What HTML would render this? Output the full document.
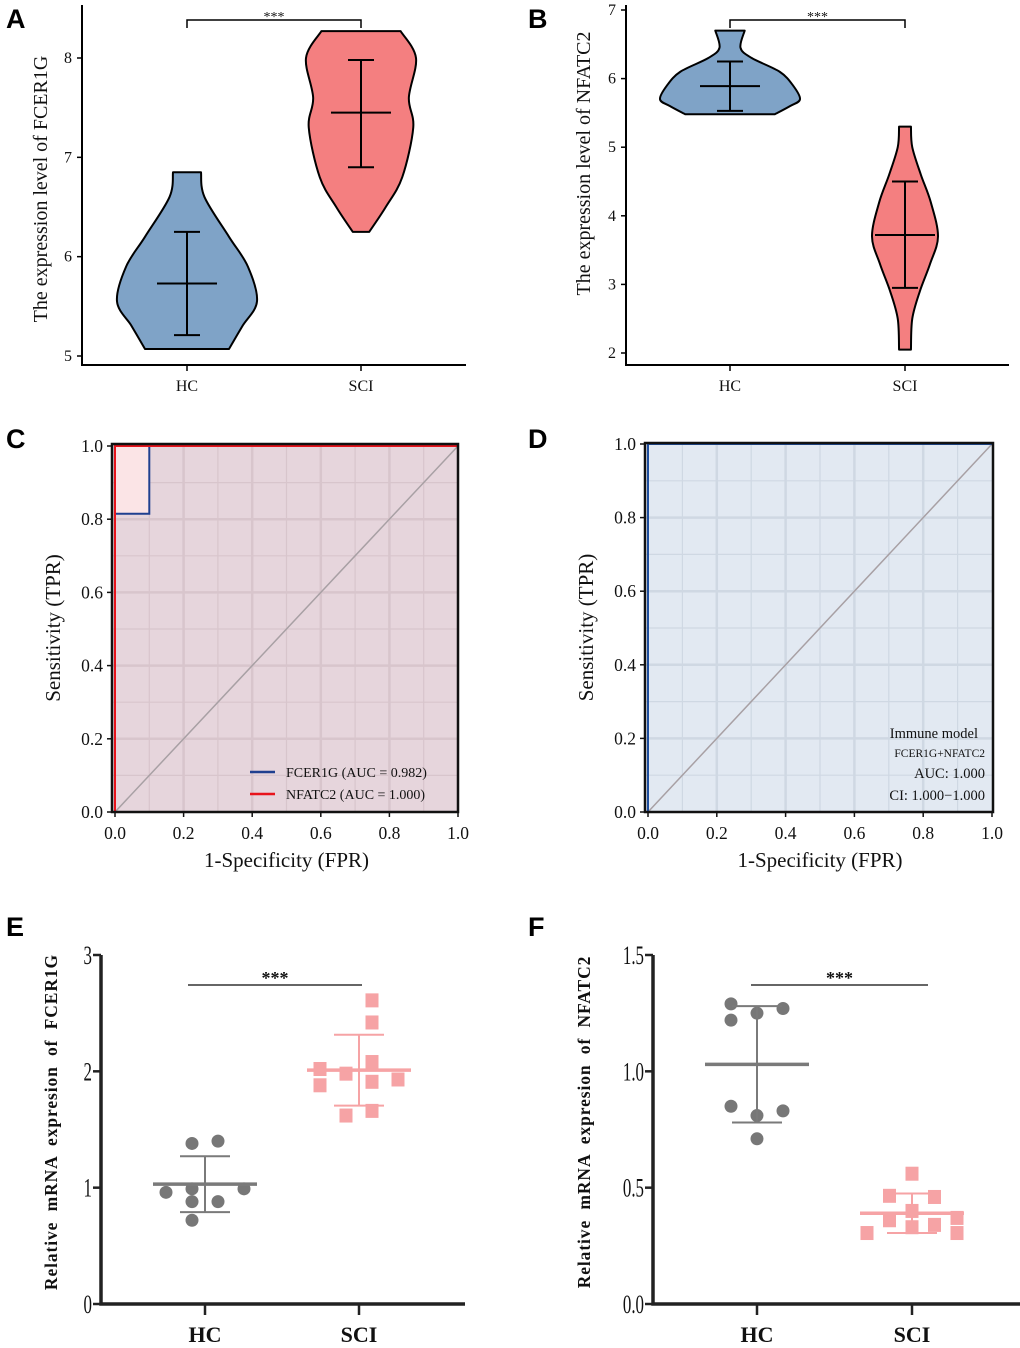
<!DOCTYPE html>
<html><head><meta charset="utf-8"><style>
html,body{margin:0;padding:0;background:#fff}
svg{display:block}
text{font-family:"Liberation Serif",serif;fill:#111}
.lt{font-family:"Liberation Sans",sans-serif;font-weight:bold;font-size:27px;fill:#000}
</style></head><body>
<svg id="fig" width="1020" height="1348" viewBox="0 0 1020 1348" xmlns="http://www.w3.org/2000/svg">
<text class="lt" x="6" y="28">A</text>
<text class="lt" x="528" y="28">B</text>
<text class="lt" x="6" y="448">C</text>
<text class="lt" x="528" y="448">D</text>
<text class="lt" x="6" y="936">E</text>
<text class="lt" x="528" y="936">F</text>
</svg>
<script>
// ---- data ----
const groups = ["HC","SCI"];
// Panel A violin (FCER1G)
const aTicks = [5,6,7,8];
const aHcY = [6.85,6.6,6.2,5.9,5.55,5.3,5.07];
const aHcW = [0.20,0.25,0.60,0.87,1.0,0.79,0.60];
const aSciY = [8.27,8.0,7.6,7.3,6.8,6.5,6.25];
const aSciW = [0.72,1.0,0.87,0.95,0.75,0.45,0.15];
const aMean = [5.73,7.45];
const aLow = [5.21,6.9];
const aHigh = [6.25,7.98];
// Panel B violin (NFATC2)
const bTicks = [2,3,4,5,6,7];
const bHcY = [6.7,6.45,6.3,6.1,5.9,5.7,5.6,5.48];
const bHcW = [0.21,0.15,0.31,0.71,0.9,1.0,0.86,0.64];
const bSciY = [5.3,5.0,4.6,4.2,3.7,3.3,2.9,2.5,2.05];
const bSciW = [0.18,0.22,0.48,0.78,1.0,0.76,0.45,0.22,0.18];
const bMean = [5.89,3.72];
const bLow = [5.53,2.95];
const bHigh = [6.25,4.5];
// Panel C ROC
const rocTicks = [0,0.2,0.4,0.6,0.8,1.0];
const fcerFpr = [0,0,0.1,0.1,1];
const fcerTpr = [0,0.815,0.815,1,1];
const nfatFpr = [0,0,1];
const nfatTpr = [0,1,1];
// Panel D ROC
const modelFpr = [0,0,1];
const modelTpr = [0,1,1];
// Panel E
const eTicks = [0,1,2,3];
const eHcVals = [1.38,1.40,0.96,0.99,0.99,0.88,0.88,0.72];
const eHcJit = [-0.5,0.5,-1.5,-0.5,1.5,-0.5,0.5,-0.5];
const eSciVals = [2.61,2.42,2.08,2.02,1.88,1.98,1.91,1.93,1.62,1.66];
const eSciJit = [0.5,0.5,0.5,-1.5,-1.5,-0.5,0.5,1.5,-0.5,0.5];
const eMean = [1.03,2.01];
const eSd = [0.24,0.305];
// Panel F
const fTicks = [0.0,0.5,1.0,1.5];
const fHcVals = [1.29,1.27,1.22,1.25,0.85,0.83,0.81,0.71];
const fHcJit = [-1,1,-1,0,-1,1,0,0];
const fSciVals = [0.56,0.465,0.46,0.40,0.36,0.34,0.305,0.33,0.305,0.37];
const fSciJit = [0,-1,1,0,-1,1,-2,0,2,2];
const fMean = [1.03,0.39];
const fSd = [0.25,0.085];

const NS="http://www.w3.org/2000/svg";
const svg=document.getElementById('fig');
function mk(tag,attrs,parent){const e=document.createElementNS(NS,tag);for(const k in attrs)e.setAttribute(k,attrs[k]);(parent||svg).appendChild(e);return e;}
function txt(s,attrs,parent){const e=mk('text',attrs,parent);e.textContent=s;return e;}
function lin(sc){return v=>sc.p0+(v-sc.d0)*(sc.p1-sc.p0)/(sc.d1-sc.d0);}
function smooth(pts){let d='M'+pts[0][0]+','+pts[0][1];for(let i=0;i<pts.length-1;i++){const p0=pts[Math.max(i-1,0)],p1=pts[i],p2=pts[i+1],p3=pts[Math.min(i+2,pts.length-1)];const c1=[p1[0]+(p2[0]-p0[0])/6,p1[1]+(p2[1]-p0[1])/6],c2=[p2[0]-(p3[0]-p1[0])/6,p2[1]-(p3[1]-p1[1])/6];d+=' C'+c1[0]+','+c1[1]+' '+c2[0]+','+c2[1]+' '+p2[0]+','+p2[1];}return d;}

function violinPanel(o){
  const g=mk('g',{});
  
  
  const y=lin({d0:o.ylo,d1:o.yhi,p0:o.py0,p1:o.py1});
  const ax=mk('path',{d:`M${o.x0},5 V${o.axY} H${o.x1}`,fill:'none',stroke:'#000','stroke-width':2},g);
  
  o.ticks.forEach(t=>{mk('line',{x1:o.x0-5,x2:o.x0,y1:y(t),y2:y(t),stroke:'#000','stroke-width':1.5},g);
    const l=txt(String(t),{x:o.x0-10,y:y(t)+5,'text-anchor':'end','font-size':16},g);
    });
  o.cx.forEach((cx,i)=>{mk('line',{x1:cx,x2:cx,y1:o.axY,y2:o.axY+6,stroke:'#000','stroke-width':1.5},g);
    const l=txt(groups[i],{x:cx,y:o.axY+26,'text-anchor':'middle','font-size':16},g);
    });
  const yt=txt(o.title,{transform:`translate(${o.titleX},${(o.py0+o.py1)/2-18}) rotate(-90)`,'text-anchor':'middle','font-size':20},g);
  
  const fills=['#7fa3c7','#f47f80'];
  o.vy.forEach((ys,i)=>{const cx=o.cx[i],w=o.vw[i];
    const R=ys.map((v,k)=>[cx+w[k]*o.maxW[i],y(v)]),L=ys.map((v,k)=>[cx-w[k]*o.maxW[i],y(v)]).reverse();
    let d='M'+L[L.length-1][0]+','+R[0][1]+' '+smooth(R).slice(1).replace(/^[^C]*/,m=>'L'+m)+' L'+L[0][0]+','+L[0][1]+smooth(L).replace(/^M[^C]*/,' ')+' Z';
    const p=mk('path',{d:d,fill:fills[i],stroke:'#000','stroke-width':2,'stroke-linejoin':'round'},g);
    
    const eb=mk('path',{d:`M${cx},${y(o.lo[i])}V${y(o.hi[i])} M${cx-13},${y(o.lo[i])}h26 M${cx-13},${y(o.hi[i])}h26 M${cx-30},${y(o.mean[i])}h60`,stroke:'#000','stroke-width':2,fill:'none'},g);
    });
  const br=mk('path',{d:`M${o.cx[0]},28V20H${o.cx[1]}V28`,fill:'none',stroke:'#000','stroke-width':1.5},g);
  
  const st=txt('***',{x:(o.cx[0]+o.cx[1])/2,y:21,'text-anchor':'middle','font-size':14},g);
  
}
violinPanel({name:'violin-chart-fcer1g',x0:82,x1:466,axY:365,ylo:5,yhi:8,py0:356,py1:58,ticks:aTicks,cx:[187,361],
  vy:[aHcY,aSciY],vw:[aHcW,aSciW],maxW:[70,55],mean:aMean,lo:aLow,hi:aHigh,title:'The expression level of FCER1G',titleX:47});
violinPanel({name:'violin-chart-nfatc2',x0:626,x1:1009,axY:365,ylo:2,yhi:7,py0:353,py1:10,ticks:bTicks,cx:[730,905],
  vy:[bHcY,bSciY],vw:[bHcW,bSciW],maxW:[70,33],mean:bMean,lo:bLow,hi:bHigh,title:'The expression level of NFATC2',titleX:590});

function rocPanel(o){
  const g=mk('g',{});
  
  
  const x=lin({d0:0,d1:1,p0:o.px0,p1:o.px1}),y=lin({d0:0,d1:1,p0:o.py0,p1:o.py1});
  mk('rect',{x:o.bx0,y:o.by0,width:o.bx1-o.bx0,height:o.by1-o.by0,fill:o.bg},g);
  for(let k=1;k<10;k++){const v=k/10,major=k%2==0;
    mk('line',{x1:x(v),x2:x(v),y1:o.by0,y2:o.by1,stroke:o.grid,'stroke-width':major?2.5:1.2},g);
    mk('line',{x1:o.bx0,x2:o.bx1,y1:y(v),y2:y(v),stroke:o.grid,'stroke-width':major?2.5:1.2},g);}
  if(o.fill) mk('path',{d:o.fill(x,y),fill:'#fbe4e6'},g);
  const dg=mk('line',{x1:x(0),y1:y(0),x2:x(1),y2:y(1),stroke:'#a8a0a4','stroke-width':1.5},g);
  
  o.series.forEach(s=>{const d=s.fpr.map((f,i)=>(i?'L':'M')+x(f)+','+y(s.tpr[i])).join('');
    const p=mk('path',{d:d,fill:'none',stroke:s.color,'stroke-width':2},g);
    });
  const bx=mk('rect',{x:o.bx0,y:o.by0,width:o.bx1-o.bx0,height:o.by1-o.by0,fill:'none',stroke:'#111','stroke-width':2.5},g);
  
  rocTicks.forEach(t=>{mk('line',{x1:x(t),x2:x(t),y1:o.by1,y2:o.by1+5,stroke:'#111','stroke-width':1.5},g);
    mk('line',{x1:o.bx0-5,x2:o.bx0,y1:y(t),y2:y(t),stroke:'#111','stroke-width':1.5},g);
    const a=txt(t.toFixed(1),{x:x(t),y:o.by1+27,'text-anchor':'middle','font-size':17.5},g);
    
    const b=txt(t.toFixed(1),{x:o.bx0-9,y:y(t)+6,'text-anchor':'end','font-size':17.5},g);
    });
  const xt=txt('1-Specificity (FPR)',{x:(o.px0+o.px1)/2,y:867,'text-anchor':'middle','font-size':21},g);
  
  const yt=txt('Sensitivity (TPR)',{transform:`translate(${o.bx0-52},${(o.by0+o.by1)/2}) rotate(-90)`,'text-anchor':'middle','font-size':21},g);
  
  return g;
}
const gc=rocPanel({name:'roc-chart-single',px0:115,px1:458,py0:812,py1:446,bx0:112,bx1:458,by0:444,by1:812,bg:'#e6d5dc',grid:'#d8c5cc',
  fill:(x,y)=>`M${x(0)},${y(0.815)}H${x(0.1)}V${y(1)}H${x(0)}Z`,
  series:[{fpr:fcerFpr,tpr:fcerTpr,color:'#1f3f8f',nm:'roc-line-fcer1g'},{fpr:nfatFpr,tpr:nfatTpr,color:'#e8141c',nm:'roc-line-nfatc2'}]});
[['FCER1G (AUC = 0.982)','#1f3f8f',772],['NFATC2 (AUC = 1.000)','#e8141c',794]].forEach(([s,c,yy])=>{
  const le=mk('g',{},gc);
  
  
  mk('line',{x1:250,x2:275,y1:yy,y2:yy,stroke:c,'stroke-width':2.5},le);
  txt(s,{x:286,y:yy+5,'font-size':14},le);});
const gd=rocPanel({name:'roc-chart-immune-model',px0:648,px1:992,py0:812,py1:444,bx0:645,bx1:993,by0:443,by1:812,bg:'#e2e9f2',grid:'#cfd8e3',
  series:[{fpr:modelFpr,tpr:modelTpr,color:'#1f4f9f',nm:'roc-line-immune-model'}]});
[['Immune model',978,738,14.5],['FCER1G+NFATC2',985,757,11.5],['AUC: 1.000',985,778,14.5],['CI: 1.000\u22121.000',985,800,14.5]].forEach(([s,xx,yy,fs])=>{
  const t=txt(s,{x:xx,y:yy,'text-anchor':'end','font-size':fs},gd);
  });

function dotPanel(o){
  const g=mk('g',{});
  
  
  const y=lin({d0:0,d1:o.ymax,p0:1304,p1:955});
  const ax=mk('path',{d:`M${o.x0},955V1304H${o.x1}`,fill:'none',stroke:'#222','stroke-width':3.5},g);
  
  o.ticks.forEach(t=>{mk('line',{x1:o.x0-8,x2:o.x0,y1:y(t),y2:y(t),stroke:'#222','stroke-width':2.5},g);
    const l=txt(o.fmt(t),{x:o.x0-9,y:y(t)+9,'text-anchor':'end','font-size':26,transform:`translate(${o.x0-9},0) scale(0.65,1) translate(${-(o.x0-9)},0)`},g);
    });
  o.cx.forEach((cx,i)=>{mk('line',{x1:cx,x2:cx,y1:1304,y2:1315,stroke:'#222','stroke-width':2.5},g);
    const l=txt(groups[i],{x:cx,y:1342,'text-anchor':'middle','font-size':22,'font-weight':'bold'},g);
    });
  const yt=txt(o.title,{transform:`translate(${o.titleX},1122) rotate(-90)`,'text-anchor':'middle','font-size':17.5,'font-weight':'bold','word-spacing':'5px','letter-spacing':'0.9px'},g);
  
  o.hc.forEach((v,i)=>{const c=mk('circle',{cx:o.cx[0]+o.hcJ[i]*o.sp[0],cy:y(v),r:6.5,fill:'#777'},g);
    });
  o.sci.forEach((v,i)=>{const r=mk('rect',{x:o.cx[1]+o.sciJ[i]*o.sp[1]-6.5,y:y(v)-7,width:13,height:14,fill:'#f6a3a5'},g);
    });
  const cols=['#7a7a7a','#f6a3a5'];
  o.cx.forEach((cx,i)=>{const m=o.mean[i],s=o.sd[i];
    const e=mk('path',{d:`M${cx},${y(m-s)}V${y(m+s)} M${cx-25},${y(m-s)}h50 M${cx-25},${y(m+s)}h50`,stroke:cols[i],'stroke-width':2,fill:'none'},g);
    
    const mm=mk('line',{x1:cx-52,x2:cx+52,y1:y(m),y2:y(m),stroke:cols[i],'stroke-width':3.5},g);
    });
  const br=mk('line',{x1:o.br[0],x2:o.br[1],y1:985,y2:985,stroke:'#333','stroke-width':1.5},g);
  
  const st=txt('***',{x:(o.br[0]+o.br[1])/2,y:984,'text-anchor':'middle','font-size':18,'font-weight':'bold'},g);
  
}
dotPanel({name:'dot-chart-fcer1g',x0:101,x1:465,ymax:3,ticks:eTicks,fmt:t=>String(t),cx:[205,359],sp:[26,26],hc:eHcVals,hcJ:eHcJit,sci:eSciVals,sciJ:eSciJit,
  mean:eMean,sd:eSd,br:[188,362],title:'Relative mRNA expresion  of  FCER1G',titleX:57});
dotPanel({name:'dot-chart-nfatc2',x0:653,x1:1020,ymax:1.5,ticks:fTicks,fmt:t=>t.toFixed(1),cx:[757,912],sp:[26,22.5],hc:fHcVals,hcJ:fHcJit,sci:fSciVals,sciJ:fSciJit,
  mean:fMean,sd:fSd,br:[751,928],title:'Relative mRNA expresion  of  NFATC2',titleX:590});
</script>
</body></html>
